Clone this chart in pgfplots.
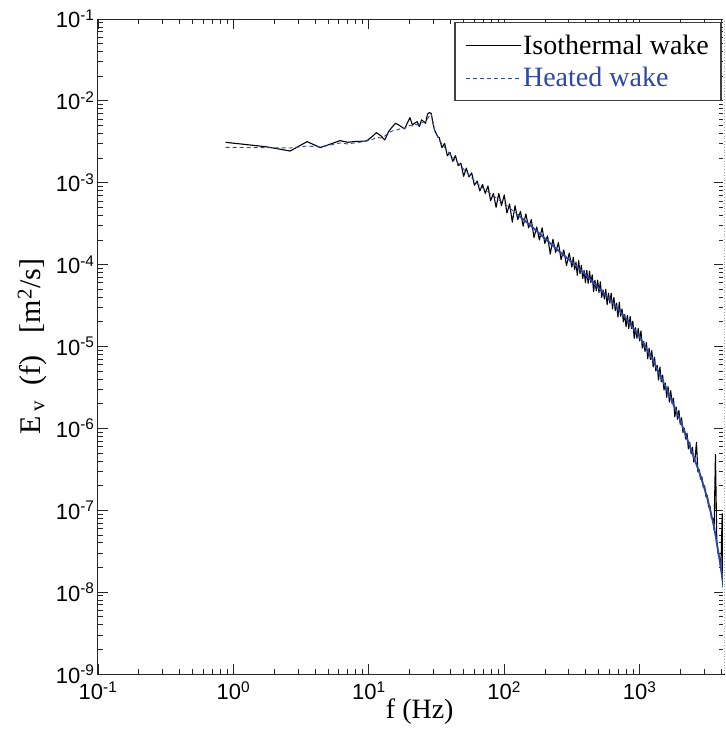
\documentclass[border=0pt]{standalone}
\usepackage{fontspec}
\setmainfont{Liberation Serif}
\setsansfont{Liberation Sans}
\usepackage{pgfplots}
\pgfplotsset{compat=1.18}
\usetikzlibrary{calc}
\definecolor{heatblue}{RGB}{44,72,168}

\begin{document}
\begin{tikzpicture}
\begin{axis}[
    name=ax,
    xmode=log, ymode=log,
    scale only axis,
    width=626pt, height=655pt,
    xmin=0.1, xmax=4200,
    ymin=1e-9, ymax=1e-1,
    xtick={0.1,1,10,100,1000},
    xticklabels={10\textsuperscript{-1},10\textsuperscript{0},10\textsuperscript{1},10\textsuperscript{2},10\textsuperscript{3}},
    minor xtick={0.2,0.3,0.4,0.5,0.6,0.7,0.8,0.9,2,3,4,5,6,7,8,9,20,30,40,50,60,70,80,90,200,300,400,500,600,700,800,900,2000,3000,4000},
    ytick={1e-9,1e-8,1e-7,1e-6,1e-5,1e-4,1e-3,1e-2,1e-1},
    yticklabels={10\textsuperscript{-9},10\textsuperscript{-8},10\textsuperscript{-7},10\textsuperscript{-6},10\textsuperscript{-5},10\textsuperscript{-4},10\textsuperscript{-3},10\textsuperscript{-2},10\textsuperscript{-1}},
    minor ytick={2e-9,3e-9,4e-9,5e-9,6e-9,7e-9,8e-9,9e-9,
                 2e-8,3e-8,4e-8,5e-8,6e-8,7e-8,8e-8,9e-8,
                 2e-7,3e-7,4e-7,5e-7,6e-7,7e-7,8e-7,9e-7,
                 2e-6,3e-6,4e-6,5e-6,6e-6,7e-6,8e-6,9e-6,
                 2e-5,3e-5,4e-5,5e-5,6e-5,7e-5,8e-5,9e-5,
                 2e-4,3e-4,4e-4,5e-4,6e-4,7e-4,8e-4,9e-4,
                 2e-3,3e-3,4e-3,5e-3,6e-3,7e-3,8e-3,9e-3,
                 2e-2,3e-2,4e-2,5e-2,6e-2,7e-2,8e-2,9e-2},
    tick label style={font=\sffamily\fontsize{22}{24}\selectfont, black},
    xticklabel style={yshift=-4pt},
    major tick length=10pt,
    minor tick length=5pt,
    every tick/.style={black!85, line width=0.8pt},
    axis line style={black!85, line width=1pt},
    xlabel={f (Hz)},
    ylabel={E\hspace{4pt}\textsubscript{v}\ \ (f)\ \ \ [m\textsuperscript{2}/s]},
    xlabel style={font=\fontsize{28}{30}\selectfont,
        at={(axis description cs:0.514,-0.058)}, anchor=center},
    ylabel style={font=\fontsize{30}{32}\selectfont,
        at={(axis description cs:-0.105,0.5)}, anchor=center},
    legend style={at={(rel axis cs:0.996,0.9954)}, anchor=north east,
        draw=black!75, line width=1.2pt, fill=white,
        font=\fontsize{28}{30}\selectfont,
        inner xsep=10pt, inner ysep=10pt, row sep=8pt},
    legend cell align=left,
    legend image code/.code={\draw[#1] (0pt,0pt) -- (55pt,0pt);},
]

% isothermal wake
\addplot[black, line width=1.1pt, line join=round] coordinates {
(0.875,3.12e-3)(1.75,2.75e-3)(2.625,2.44e-3)(3.5,3.18e-3)(4.375,2.69e-3)
(5.25,2.98e-3)(6.125,3.27e-3)(7.0,3.12e-3)(7.875,3.19e-3)(8.75,3.21e-3)
(9.625,3.24e-3)(10.5,3.62e-3)(11.375,4.09e-3)(12.25,3.76e-3)(13.125,3.33e-3)
(14.0,4.21e-3)(14.875,4.80e-3)(15.75,5.32e-3)(16.625,5.08e-3)(17.5,4.80e-3)
(18.375,4.54e-3)(19.25,5.37e-3)(20.125,6.24e-3)(21.0,5.08e-3)(21.875,5.37e-3)
(22.75,5.57e-3)(23.625,4.84e-3)(24.5,5.85e-3)(25.375,5.62e-3)(26.25,5.32e-3)
(27.125,6.92e-3)(28.0,7.18e-3)(28.875,7.06e-3)(29.75,5.37e-3)(30.625,4.37e-3)
(31.5,3.98e-3)(32.375,3.63e-3)
(33.11,3.55e-3)(34.67,2.69e-3)(36.31,3.02e-3)(38.02,2.14e-3)(39.81,2.34e-3)
(41.69,1.82e-3)(43.65,2.14e-3)(45.71,1.62e-3)(47.86,1.74e-3)(50.12,1.20e-3)
(52.48,1.51e-3)(54.95,1.18e-3)(57.54,1.32e-3)(60.26,9.33e-4)(63.10,1.05e-3)
(66.07,7.94e-4)(69.18,9.55e-4)(72.44,7.41e-4)(75.86,9.12e-4)(79.43,6.03e-4)
(83.18,7.41e-4)(87.10,5.01e-4)(91.20,7.41e-4)(95.50,5.25e-4)(100,7.08e-4)
(104.7,4.27e-4)(109.6,5.50e-4)(114.8,3.31e-4)(120.2,5.25e-4)(125.9,3.55e-4)
(131.8,4.47e-4)(138.0,2.95e-4)(144.5,4.17e-4)(151.4,2.82e-4)(158.5,3.55e-4)
(166.0,2.14e-4)(173.8,2.88e-4)(182.0,2.00e-4)(190.5,2.82e-4)(199.5,1.82e-4)
(208.9,2.24e-4)(218.8,1.35e-4)(229.1,2.04e-4)(239.9,1.41e-4)(251.2,1.86e-4)
(263.0,1.15e-4)(275.4,1.51e-4)(288.4,9.77e-5)(302.0,1.38e-4)(316.2,9.33e-5)
(323.6,1.23e-4)(331.1,8.71e-5)(338.8,1.07e-4)(346.7,7.41e-5)(354.8,1.12e-4)
(363.1,7.76e-5)(371.5,9.77e-5)(380.2,6.76e-5)(389.0,8.51e-5)(398.1,6.03e-5)
(407.4,8.51e-5)(416.9,5.89e-5)(426.6,8.32e-5)(436.5,6.03e-5)(446.7,7.50e-5)
(457.1,4.68e-5)(467.7,6.46e-5)(478.6,4.79e-5)(489.8,6.46e-5)(501.2,4.57e-5)
(512.9,6.17e-5)(524.8,3.98e-5)(537.0,4.90e-5)(549.5,3.80e-5)(562.3,5.01e-5)
(575.4,3.24e-5)(588.8,4.47e-5)(602.6,3.39e-5)(616.6,4.47e-5)(631.0,2.88e-5)
(645.7,3.98e-5)(660.7,2.75e-5)(676.1,3.39e-5)(691.8,2.29e-5)(707.9,3.47e-5)
(724.4,2.34e-5)(741.3,2.88e-5)(758.6,2.00e-5)(776.2,2.45e-5)(794.3,1.74e-5)
(812.8,2.40e-5)(831.8,1.66e-5)(851.1,2.34e-5)(871.0,1.66e-5)(891.3,2.04e-5)
(912.0,1.26e-5)(933.3,1.70e-5)(955.0,1.26e-5)(977.2,1.66e-5)(1000,1.17e-5)
(1023,1.55e-5)(1047,9.55e-6)(1072,1.15e-5)(1096,8.71e-6)(1122,1.12e-5)
(1148,7.08e-6)(1175,9.55e-6)(1202,6.92e-6)(1230,8.91e-6)(1259,5.62e-6)
(1288,7.41e-6)(1318,5.01e-6)(1349,5.89e-6)(1380,3.89e-6)(1413,5.62e-6)
(1445,3.72e-6)(1479,4.47e-6)(1514,2.95e-6)(1549,3.55e-6)(1585,2.40e-6)
(1622,3.24e-6)(1660,2.09e-6)(1698,2.88e-6)(1738,2.00e-6)(1778,2.34e-6)
(1820,1.38e-6)(1862,1.82e-6)(1905,1.29e-6)(1950,1.66e-6)(1995,1.12e-6)
(2042,1.35e-6)(2089,8.91e-7)(2138,1.00e-6)(2188,7.41e-7)(2239,8.71e-7)
(2291,5.62e-7)(2344,6.76e-7)(2399,4.90e-7)(2455,5.89e-7)(2512,3.89e-7)
(2570,4.37e-7)(2630,6.76e-7)(2692,2.95e-7)(2754,3.13e-7)(2818,2.40e-7)
(2884,2.55e-7)(2951,1.91e-7)(3020,1.99e-7)(3090,1.46e-7)(3162,1.51e-7)
(3236,1.10e-7)(3311,1.12e-7)(3388,8.13e-8)(3467,7.94e-8)(3548,5.75e-8)
(3631,4.79e-7)(3715,4.27e-8)(3802,2.95e-8)(3890,2.69e-8)(3981,1.86e-8)
(4074,9.10e-8)(4121,1.29e-8)(4169,1.12e-8)
};
\addlegendentry{Isothermal wake}

% heated wake
\addplot[heatblue, line width=0.9pt, dash pattern=on 4pt off 3pt] coordinates {
(0.875,2.71e-3)(2.625,2.66e-3)(3.5,2.81e-3)(4.375,2.74e-3)(5.25,2.90e-3)
(6.125,3.06e-3)(7.0,2.98e-3)(8.75,3.15e-3)(9.625,3.24e-3)(10.5,3.33e-3)
(11.375,3.62e-3)(12.25,3.52e-3)(13.125,3.72e-3)(14.0,4.06e-3)(14.875,4.29e-3)
(15.75,4.41e-3)(16.625,4.47e-3)(17.5,4.67e-3)(18.375,4.60e-3)(19.25,4.94e-3)
(20.125,5.01e-3)(21.0,4.94e-3)(21.875,5.22e-3)(22.75,5.08e-3)(23.625,5.30e-3)
(24.5,5.37e-3)(25.375,5.52e-3)(26.25,5.60e-3)(27.125,6.01e-3)(28.0,6.55e-3)
(28.875,6.92e-3)(29.75,5.52e-3)(30.625,4.41e-3)(31.5,3.94e-3)(32.375,3.63e-3)
(33.11,3.31e-3)(36.31,2.69e-3)(39.81,2.24e-3)(43.65,1.86e-3)(47.86,1.585e-3)
(52.48,1.35e-3)(57.54,1.15e-3)(63.10,9.77e-4)(69.18,8.71e-4)(75.86,7.76e-4)
(83.18,6.92e-4)(91.20,6.17e-4)(100,5.62e-4)(109.6,4.90e-4)(120.2,4.37e-4)
(125.9,4.07e-4)
};
\addlegendentry{\textcolor{heatblue}{Heated wake}}

\addplot[heatblue, line width=1.8pt, forget plot] coordinates {
(125.9,4.07e-4)(141.3,3.47e-4)(158.5,2.95e-4)(177.8,2.48e-4)(199.5,2.09e-4)
(223.9,1.76e-4)(251.2,1.48e-4)(281.8,1.26e-4)(316.2,1.07e-4)(354.8,9.02e-5)
(398.1,7.59e-5)(446.7,6.24e-5)(501.2,5.13e-5)(562.3,4.22e-5)(631.0,3.47e-5)
(707.9,2.75e-5)(794.3,2.19e-5)(891.3,1.70e-5)(1000,1.32e-5)(1122,9.44e-6)
(1259,6.76e-6)(1413,4.52e-6)(1585,3.02e-6)(1778,1.95e-6)(1995,1.26e-6)
(2239,7.50e-7)(2512,4.47e-7)(2818,2.63e-7)(3162,1.41e-7)(3548,6.31e-8)
(3715,3.98e-8)(3981,2.00e-8)(4169,1.12e-8)
};

\end{axis}
% right frame line shown faint, as in the original
\draw[white, line width=1.4pt] (ax.south east) -- (ax.north east);
\draw[gray!70, line width=0.8pt, dotted] (ax.south east) -- (ax.north east);
\pgfresetboundingbox
\path[use as bounding box] ($(ax.south west)+(-98pt,-59pt)$) rectangle ($(ax.north east)+(1pt,19pt)$);
\end{tikzpicture}
\end{document}
